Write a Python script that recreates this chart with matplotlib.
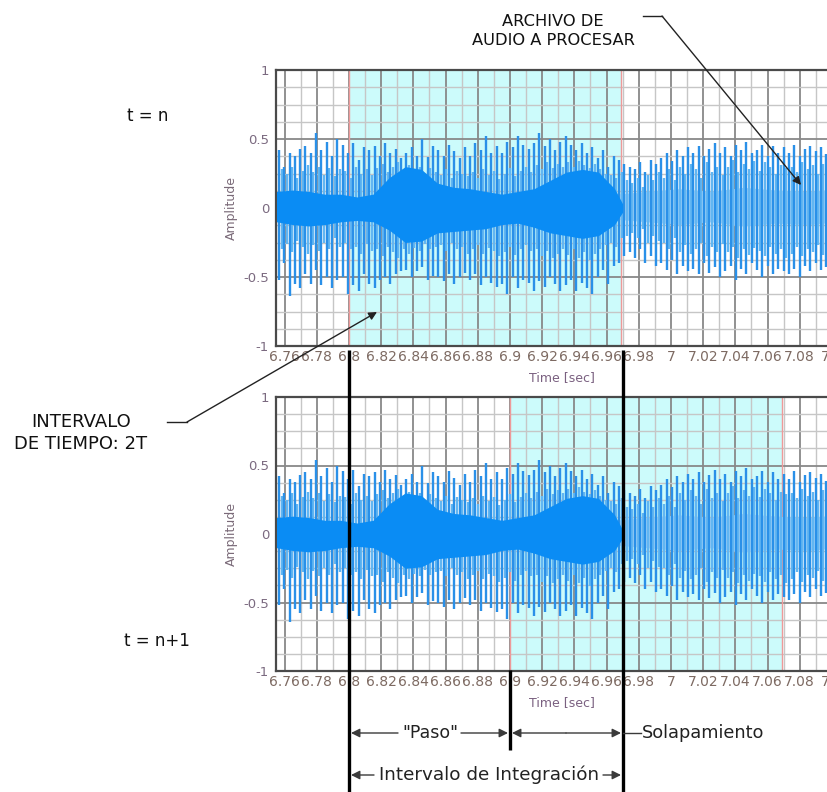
import numpy as np
import matplotlib
matplotlib.use("Agg")
import matplotlib.pyplot as plt
from matplotlib.ticker import FixedLocator, FixedFormatter, MultipleLocator

plt.rcParams['font.family'] = ['DejaVu Sans']

# ---------------- data ----------------
x_ticks = [6.76, 6.78, 6.80, 6.82, 6.84, 6.86, 6.88, 6.90, 6.92, 6.94,
           6.96, 6.98, 7.00, 7.02, 7.04, 7.06, 7.08, 7.10]
x_tick_labels = ['6.76', '6.78', '6.8', '6.82', '6.84', '6.86', '6.88', '6.9',
                 '6.92', '6.94', '6.96', '6.98', '7', '7.02', '7.04', '7.06',
                 '7.08', '7.1']
y_ticks = [-1, -0.5, 0, 0.5, 1]
y_tick_labels = ['-1', '-0.5', '0', '0.5', '1']

window_top = [6.800, 6.969]      # analysis window at t = n
window_bottom = [6.900, 7.069]   # analysis window at t = n+1

spike_t0 = 6.7565
spike_dt = 0.0033
spike_up = [0.42, 0.30, 0.40, 0.38, 0.43, 0.45,
            0.40, 0.54, 0.42, 0.48, 0.38, 0.50,
            0.46, 0.40, 0.47, 0.35, 0.44, 0.42,
            0.45, 0.38, 0.47, 0.40, 0.43, 0.36,
            0.40, 0.44, 0.38, 0.50, 0.37, 0.45,
            0.42, 0.38, 0.46, 0.41, 0.36, 0.44,
            0.38, 0.47, 0.42, 0.52, 0.40, 0.45,
            0.40, 0.48, 0.44, 0.52, 0.46, 0.43,
            0.47, 0.54, 0.45, 0.50, 0.42, 0.48,
            0.52, 0.46, 0.42, 0.47, 0.40, 0.44,
            0.36, 0.42, 0.30, 0.38, 0.35, 0.32,
            0.30, 0.28, 0.33, 0.26, 0.35, 0.32,
            0.36, 0.40, 0.34, 0.42, 0.38, 0.44,
            0.40, 0.45, 0.38, 0.43, 0.47, 0.40,
            0.44, 0.38, 0.46, 0.42, 0.48, 0.40,
            0.42, 0.46, 0.38, 0.45, 0.40, 0.44,
            0.40, 0.46, 0.38, 0.43, 0.45, 0.41, 0.44, 0.39, 0.42]
spike_dn = [-0.52, -0.40, -0.64, -0.55, -0.58, -0.48,
            -0.55, -0.45, -0.56, -0.50, -0.58, -0.52,
            -0.50, -0.62, -0.56, -0.60, -0.48, -0.55,
            -0.58, -0.52, -0.50, -0.55, -0.48, -0.46,
            -0.45, -0.50, -0.46, -0.43, -0.52, -0.49,
            -0.50, -0.53, -0.48, -0.55, -0.50, -0.47,
            -0.52, -0.48, -0.56, -0.50, -0.54, -0.57,
            -0.55, -0.62, -0.50, -0.58, -0.52, -0.54,
            -0.60, -0.53, -0.57, -0.50, -0.55, -0.60,
            -0.56, -0.52, -0.60, -0.54, -0.58, -0.62,
            -0.50, -0.45, -0.55, -0.42, -0.40, -0.35,
            -0.32, -0.36, -0.30, -0.40, -0.35, -0.42,
            -0.40, -0.45, -0.38, -0.48, -0.42, -0.46,
            -0.44, -0.48, -0.40, -0.47, -0.43, -0.50,
            -0.46, -0.42, -0.52, -0.44, -0.48, -0.40,
            -0.45, -0.50, -0.42, -0.48, -0.44, -0.46,
            -0.48, -0.44, -0.50, -0.42, -0.46, -0.40, -0.45, -0.43, -0.47]
mid_up = [0.28, 0.25, 0.30, 0.22, 0.27, 0.31,
          0.26, 0.30, 0.24, 0.29, 0.23, 0.28,
          0.27, 0.22, 0.30, 0.25, 0.28, 0.24,
          0.29, 0.32, 0.26, 0.30, 0.33, 0.28,
          0.31, 0.27, 0.30, 0.25, 0.29, 0.26,
          0.24, 0.28, 0.22, 0.27, 0.25, 0.23,
          0.26, 0.22, 0.28, 0.24, 0.27, 0.21,
          0.25, 0.29, 0.23, 0.27, 0.30, 0.26,
          0.31, 0.28, 0.33, 0.29, 0.32, 0.30,
          0.33, 0.30, 0.34, 0.31, 0.29, 0.32,
          0.28, 0.25, 0.24, 0.22, 0.26, 0.20,
          0.18, 0.22, 0.15, 0.24, 0.20, 0.26,
          0.22, 0.28, 0.20, 0.30, 0.25, 0.32,
          0.28, 0.22, 0.33, 0.26, 0.30, 0.24,
          0.30, 0.35, 0.26, 0.32, 0.28, 0.34,
          0.27, 0.33, 0.30, 0.25, 0.31, 0.29,
          0.30, 0.26, 0.33, 0.28, 0.31, 0.25, 0.32, 0.29, 0.27]
mid_dn = [-0.30, -0.26, -0.32, -0.24, -0.28, -0.33,
          -0.27, -0.31, -0.25, -0.30, -0.22, -0.28,
          -0.25, -0.30, -0.28, -0.33, -0.26, -0.31,
          -0.30, -0.35, -0.28, -0.32, -0.36, -0.30,
          -0.33, -0.29, -0.31, -0.26, -0.30, -0.28,
          -0.27, -0.31, -0.25, -0.30, -0.28, -0.33,
          -0.30, -0.27, -0.33, -0.29, -0.31, -0.35,
          -0.32, -0.28, -0.34, -0.30, -0.27, -0.31,
          -0.30, -0.35, -0.31, -0.36, -0.33, -0.30,
          -0.34, -0.30, -0.36, -0.32, -0.38, -0.33,
          -0.30, -0.27, -0.25, -0.28, -0.22, -0.20,
          -0.18, -0.22, -0.15, -0.25, -0.20, -0.24,
          -0.25, -0.30, -0.22, -0.32, -0.27, -0.33,
          -0.30, -0.25, -0.35, -0.28, -0.32, -0.26,
          -0.32, -0.28, -0.36, -0.30, -0.34, -0.29,
          -0.31, -0.35, -0.28, -0.33, -0.30, -0.36,
          -0.33, -0.28, -0.35, -0.30, -0.32, -0.27, -0.34, -0.29, -0.31]

core_t = [6.755, 6.765, 6.775, 6.785, 6.795, 6.805, 6.815, 6.825, 6.835,
          6.845, 6.855, 6.865, 6.875, 6.885, 6.895, 6.905, 6.915, 6.925,
          6.935, 6.945, 6.955, 6.965, 6.970]
core_hi = [0.12, 0.13, 0.12, 0.10, 0.10, 0.08, 0.10, 0.22, 0.30, 0.28, 0.18,
           0.15, 0.14, 0.12, 0.10, 0.12, 0.14, 0.20, 0.26, 0.28, 0.26, 0.14, 0.03]
core_lo = [-0.10, -0.12, -0.13, -0.12, -0.10, -0.09, -0.10, -0.16, -0.25,
           -0.24, -0.18, -0.17, -0.16, -0.15, -0.12, -0.11, -0.14, -0.18,
           -0.20, -0.22, -0.20, -0.12, -0.03]

haze_t = [6.965, 6.985, 7.005, 7.025, 7.045, 7.065, 7.085, 7.105]
haze_hi = [0.10, 0.12, 0.14, 0.12, 0.15, 0.13, 0.12, 0.14]
haze_lo = [-0.08, -0.10, -0.12, -0.10, -0.13, -0.11, -0.12, -0.10]

# ---------------- figure ----------------
W, H = 828, 792
fig = plt.figure(figsize=(W / 100, H / 100), dpi=100)

x_lo, x_hi = 6.7547, 7.11
px_per_sec = 1610.0
ax_w_px = (x_hi - x_lo) * px_per_sec


def panel(top_px, bottom_px, window):
    ax = fig.add_axes([276 / W, 1 - bottom_px / H, ax_w_px / W,
                       (bottom_px - top_px) / H])
    ax.set_xlim(x_lo, x_hi)
    ax.set_ylim(-1, 1)
    ax.set_axisbelow(True)
    ax.axvspan(window[0], window[1], color='#ccfbfb', zorder=0, lw=0)
    ax.xaxis.set_major_locator(FixedLocator(x_ticks))
    ax.xaxis.set_major_formatter(FixedFormatter(x_tick_labels))
    ax.xaxis.set_minor_locator(MultipleLocator(0.01))
    ax.yaxis.set_major_locator(FixedLocator(y_ticks))
    ax.yaxis.set_major_formatter(FixedFormatter(y_tick_labels))
    ax.yaxis.set_minor_locator(MultipleLocator(0.125))
    ax.grid(which='minor', color='#c6c6c6', lw=1.0)
    ax.grid(which='major', color='#888888', lw=1.3)
    ax.tick_params(which='both', length=0)
    ax.tick_params(axis='x', pad=3, labelsize=10, labelcolor='#7d6a62')
    ax.tick_params(axis='y', pad=5, labelsize=9.5, labelcolor='#7b6a80')
    for s in ax.spines.values():
        s.set_color('#4a4a4a')
        s.set_linewidth(1.6)
    for xv in window:
        ax.axvline(xv, color='#ee9a9a', lw=1.0, zorder=1.5)

    n = len(spike_up)
    t_main = spike_t0 + spike_dt * np.arange(n)
    t_mid = t_main + spike_dt / 2
    ax.fill_between(haze_t, haze_lo, haze_hi, color='#a9d6f7', lw=0, zorder=2)
    ax.vlines(t_mid, mid_dn, mid_up, colors='#62b6f2', lw=1.7, zorder=2.2)
    ax.vlines(t_main, spike_dn, spike_up, colors='#2a90e8', lw=1.7, zorder=2.4)
    ax.fill_between(core_t, core_lo, core_hi, color='#0a8cf4', lw=0, zorder=2.6)

    ax.set_xlabel('Time [sec]', fontsize=9, color='#7a6080', labelpad=5)
    ax.set_ylabel('Amplitude', fontsize=9, color='#7a6a78', labelpad=4)
    return ax


ax1 = panel(70, 346, window_top)
ax2 = panel(397, 671, window_bottom)

# ---------------- overlay annotations (pixel space) ----------------
ov = fig.add_axes([0, 0, 1, 1], zorder=10)
ov.set_xlim(0, W)
ov.set_ylim(H, 0)
ov.axis('off')
ov.patch.set_alpha(0)

# thick black markers
ov.plot([349, 349], [350, 792], color='black', lw=2.4, solid_capstyle='butt')
ov.plot([623, 623], [350, 792], color='black', lw=2.4, solid_capstyle='butt')
ov.plot([510, 510], [670, 750], color='black', lw=2.4, solid_capstyle='butt')

ac = '#3a3a3a'
ap = dict(arrowstyle='-|>', color=ac, lw=1.0, mutation_scale=13,
          shrinkA=0, shrinkB=0)

def arrow(x0, x1, y):
    ov.annotate('', xy=(x1, y), xytext=(x0, y), arrowprops=ap)

# "Paso"
arrow(398, 351, 733)
arrow(461, 508, 733)
ov.text(430, 733, '"Paso"', ha='center', va='center', fontsize=12.5, color='#222222')
# overlap segment
arrow(566, 512, 733)
arrow(566, 621, 733)
ov.plot([623, 641], [733, 733], color=ac, lw=1.0)
ov.text(642, 733, 'Solapamiento', ha='left', va='center', fontsize=12.8, color='#222222')
# integration interval
arrow(374, 351, 775)
arrow(603, 621, 775)
ov.text(489, 775, 'Intervalo de Integración', ha='center', va='center',
        fontsize=13.2, color='#222222')

# left labels
ov.text(148, 116, 't = n', ha='center', va='center', fontsize=12, color='#111111')
ov.text(157, 641, 't = n+1', ha='center', va='center', fontsize=12, color='#111111')
ov.text(81, 433, 'INTERVALO\nDE TIEMPO: 2T', ha='center', va='center',
        fontsize=13, color='#111111', linespacing=1.3)
ov.plot([167, 187], [422, 422], color='#222222', lw=1.0)
ov.annotate('', xy=(377, 312), xytext=(187, 422),
            arrowprops=dict(arrowstyle='-|>', color='#222222', lw=1.0,
                            mutation_scale=12, shrinkA=0, shrinkB=0))

# top label
ov.text(553, 31, 'ARCHIVO DE\nAUDIO A PROCESAR', ha='center', va='center',
        fontsize=11.7, color='#111111', linespacing=1.35)
ov.plot([643, 662], [16, 16], color='#222222', lw=1.0)
ov.annotate('', xy=(801, 185), xytext=(662, 16),
            arrowprops=dict(arrowstyle='-|>', color='#222222', lw=1.0,
                            mutation_scale=12, shrinkA=0, shrinkB=0))

fig.savefig('out.png', dpi=100)
